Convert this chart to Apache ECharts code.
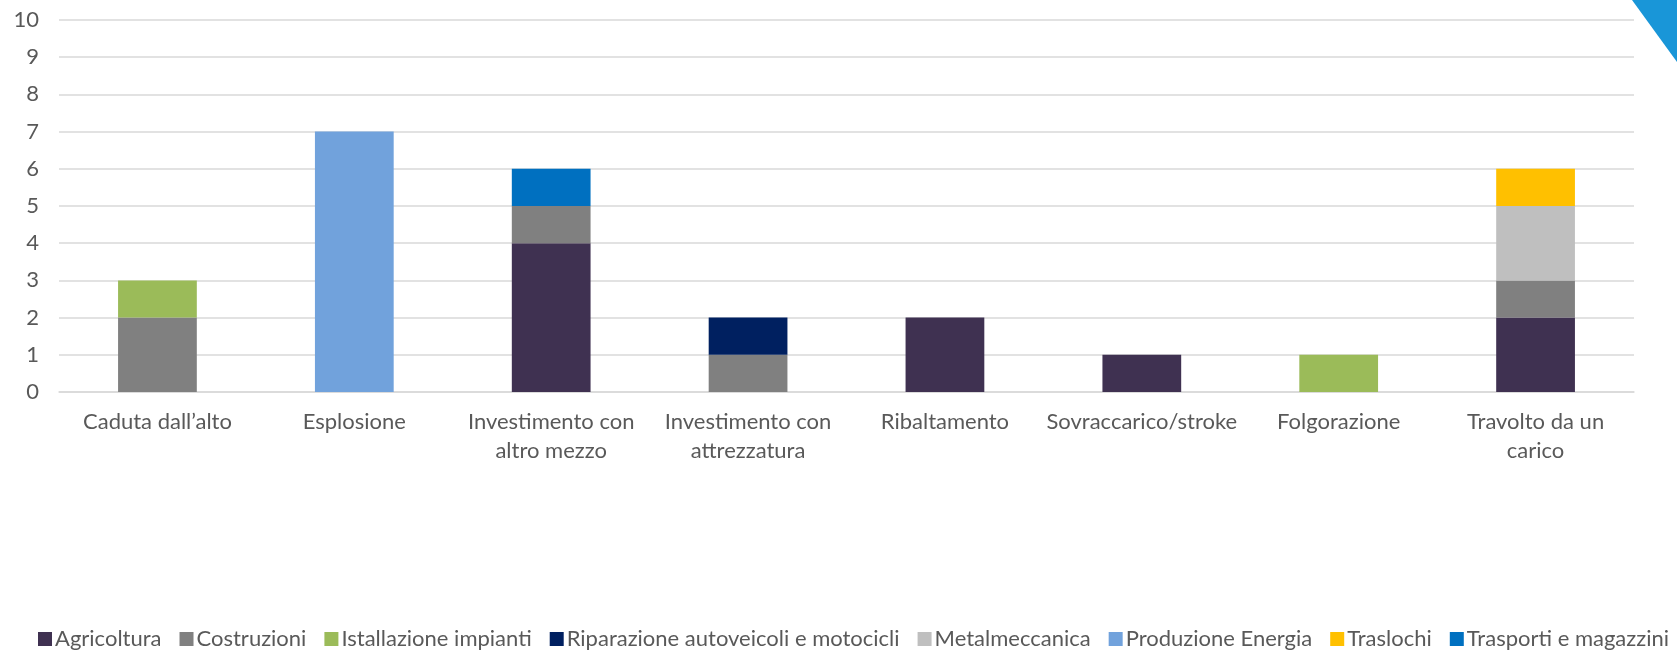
<!DOCTYPE html>
<html>
<head>
<meta charset="utf-8">
<script src="https://cdn.jsdelivr.net/npm/echarts@6/dist/echarts.min.js"></script>
<style>
  html, body { margin: 0; padding: 0; background: #fff; }
  #chart { width: 1677px; height: 651px; }
</style>
</head>
<body>
<div id="chart"></div>
<script>
const categories = [
  'Caduta dall\u2019alto', 'Esplosione', 'Investimento con\naltro mezzo', 'Investimento con\nattrezzatura',
  'Ribaltamento', 'Sovraccarico/stroke', 'Folgorazione', 'Travolto da un\ncarico'
]
const yTicks = [0, 10, 1] // min, max, interval

const agricoltura = [0, 0, 4, 0, 2, 1, 0, 2]
const costruzioni = [2, 0, 1, 1, 0, 0, 0, 1]
const installazione = [1, 0, 0, 0, 0, 0, 1, 0]
const riparazione = [0, 0, 0, 1, 0, 0, 0, 0]
const metalmeccanica = [0, 0, 0, 0, 0, 0, 0, 2]
const produzione = [0, 7, 0, 0, 0, 0, 0, 0]
const traslochi = [0, 0, 0, 0, 0, 0, 0, 1]
const trasporti = [0, 0, 1, 0, 0, 0, 0, 0]

const seriesDefs = [
  { name: 'Agricoltura', data: agricoltura, color: '#3f3151' },
  { name: 'Costruzioni', data: costruzioni, color: '#808080' },
  { name: 'Istallazione impianti', data: installazione, color: '#9bbb59' },
  { name: 'Riparazione autoveicoli e motocicli', data: riparazione, color: '#002060' },
  { name: 'Metalmeccanica', data: metalmeccanica, color: '#bfbfbf' },
  { name: 'Produzione Energia', data: produzione, color: '#71a2dc' },
  { name: 'Traslochi', data: traslochi, color: '#ffc000' },
  { name: 'Trasporti e magazzini', data: trasporti, color: '#0070c0' }
]

const font = 'Lato, "Open Sans", sans-serif'
const chart = echarts.init(document.getElementById('chart'))

chart.setOption({
  animation: false,
  textStyle: { fontFamily: font },
  grid: { left: 59, right: 43, top: 20, bottom: 259, containLabel: false },
  legend: {
    top: 628,
    left: 38,
    width: 1670,
    padding: 0,
    icon: 'rect',
    itemWidth: 14,
    itemHeight: 14,
    itemGap: 18,
    textStyle: { color: '#595959', fontSize: 22, fontFamily: font, padding: [0, 0, 0, -2] },
    data: seriesDefs.map(s => s.name)
  },
  xAxis: {
    type: 'category',
    data: categories,
    axisLine: { lineStyle: { color: '#d9d9d9', width: 1.5 } },
    axisTick: { show: false },
    axisLabel: { color: '#595959', fontSize: 22, lineHeight: 29, margin: 15, interval: 0 }
  },
  yAxis: {
    type: 'value',
    min: yTicks[0],
    max: yTicks[1],
    interval: yTicks[2],
    axisLine: { show: false },
    axisTick: { show: false },
    splitLine: { lineStyle: { color: '#d9d9d9', width: 1.5 } },
    axisLabel: { color: '#595959', fontSize: 22, margin: 20 }
  },
  series: seriesDefs.map(s => ({
    name: s.name,
    type: 'bar',
    stack: 'total',
    barWidth: '40%',
    data: s.data.map(v => (v === 0 ? null : v)),
    itemStyle: { color: s.color }
  })),
  graphic: [{
    type: 'polygon',
    shape: { points: [[1632, 0], [1677, 0], [1677, 62]] },
    style: { fill: '#1996d8' }
  }]
})
</script>
</body>
</html>
